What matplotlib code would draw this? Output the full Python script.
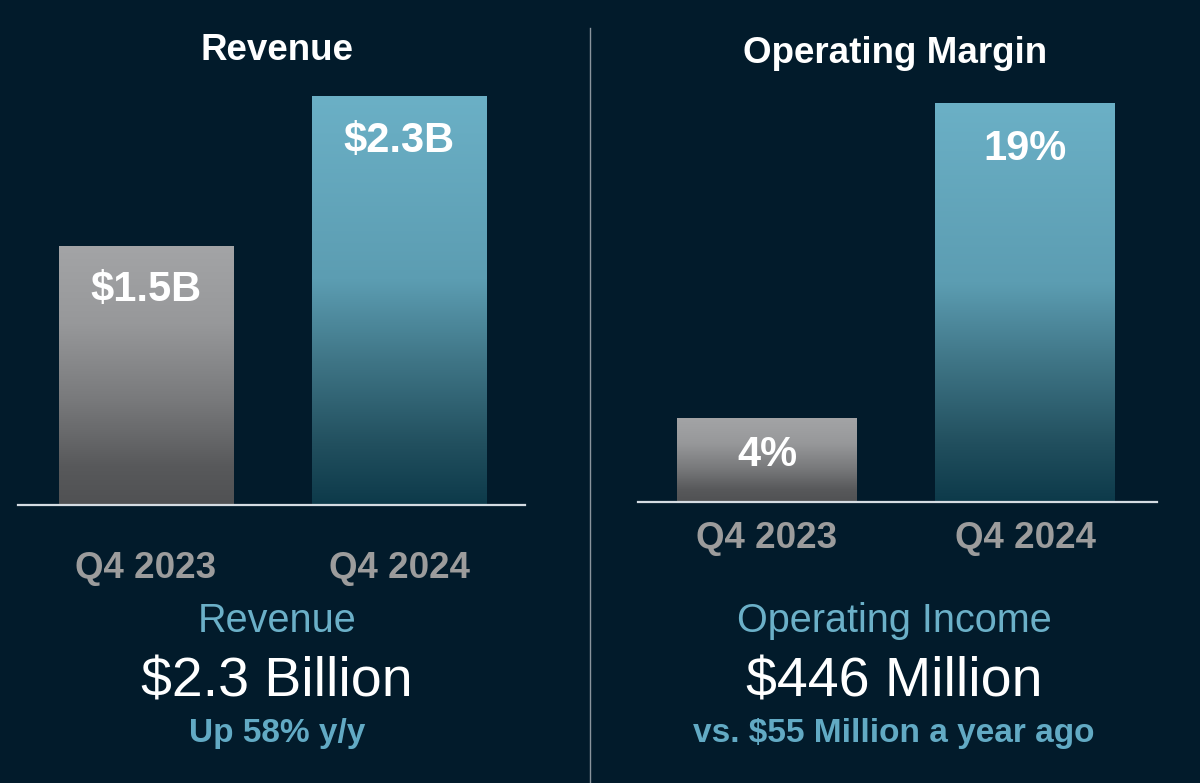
import numpy as np
import matplotlib
matplotlib.use('Agg')
import matplotlib.pyplot as plt
from matplotlib.colors import LinearSegmentedColormap

# ---------------- data ----------------
categories = ['Q4 2023', 'Q4 2024']
revenue = [1.46, 2.31]
revenue_labels = ['$1.5B', '$2.3B']
margin = [4, 19]
margin_labels = ['4%', '19%']
left_title = 'Revenue'
right_title = 'Operating Margin'
left_lines = ['Revenue', '$2.3 Billion', 'Up 58% y/y']
right_lines = ['Operating Income', '$446 Million', 'vs. $55 Million a year ago']

# ---------------- style ----------------
plt.rcParams['font.family'] = ['Liberation Sans', 'DejaVu Sans']
W, H = 1200, 783
BG = '#021b2b'
WHITE = '#ffffff'
TICK_GRAY = '#9c9c9c'
LIGHT_BLUE = '#6bb0c8'
BOLD_BLUE = '#62aac4'

gray_cmap = LinearSegmentedColormap.from_list('g', [
    (0.0, '#505153'), (0.15, '#58595b'), (0.4, '#78797b'),
    (0.7, '#97989a'), (1.0, '#a3a4a6')])
teal_cmap = LinearSegmentedColormap.from_list('t', [
    (0.0, '#0d3a4a'), (0.15, '#22505f'), (0.35, '#3f7586'),
    (0.55, '#5c9db2'), (1.0, '#6bb0c6')])

fig = plt.figure(figsize=(12, 7.83), dpi=100, facecolor=BG)


def fx(px):
    return px / W


def fy(py):
    return 1 - py / H


def make_panel(left_px, right_px, base_px, top_px, vals, labels, ref_val, ref_px,
               xlim, width, label_off, tick_pad):
    ax = fig.add_axes([fx(left_px), fy(base_px), (right_px - left_px) / W,
                       (base_px - top_px) / H])
    ax.set_facecolor(BG)
    x = np.arange(len(vals))
    bars = ax.bar(x, vals, width=width, color='none', edgecolor='none', zorder=2)
    grad = np.linspace(0, 1, 256).reshape(-1, 1)
    for b, cm in zip(bars, [gray_cmap, teal_cmap]):
        x0, y0, bw, bh = b.get_x(), b.get_y(), b.get_width(), b.get_height()
        im = ax.imshow(grad, cmap=cm, origin='lower', aspect='auto',
                       extent=[x0, x0 + bw, y0, y0 + bh], zorder=1,
                       interpolation='bilinear')
        im.set_clip_path(b)
    for xi, v, lab, off in zip(x, vals, labels, label_off):
        ax.annotate(lab, xy=(xi, v), xytext=(0, -off), textcoords='offset pixels',
                    ha='center', va='baseline', fontsize=30, fontweight='bold',
                    color=WHITE, zorder=3)
    ax.set_xlim(*xlim)
    ax.set_ylim(0, ref_val * (base_px - top_px) / ref_px)
    for s in ['top', 'right', 'left']:
        ax.spines[s].set_visible(False)
    ax.spines['bottom'].set_color('#d5dce2')
    ax.spines['bottom'].set_linewidth(1.6)
    ax.set_yticks([])
    ax.set_xticks(x, categories)
    ax.tick_params(axis='x', length=0, pad=tick_pad, labelsize=26.5,
                   labelcolor=TICK_GRAY)
    for lbl in ax.get_xticklabels():
        lbl.set_fontweight('bold')
        lbl.set_verticalalignment('baseline')
    return ax


make_panel(18, 525, 505, 60, revenue, revenue_labels, 2.31, 409,
           (-0.506, 1.498), 0.688, [55, 56], 73 * 0.72)
make_panel(638, 1157, 502, 60, margin, margin_labels, 19, 399,
           (-0.499, 1.509), 0.696, [48, 57], 46 * 0.72)

# divider
fig.add_artist(plt.Line2D([fx(590), fx(590)], [fy(28), fy(783)],
                          color='#8a949c', lw=1.0))

# titles
fig.text(fx(277), fy(60), left_title, ha='center', va='baseline',
         fontsize=26.5, fontweight='bold', color=WHITE)
fig.text(fx(895), fy(63), right_title, ha='center', va='baseline',
         fontsize=26.5, fontweight='bold', color=WHITE)

# bottom summaries
for cx, lines in [(277, left_lines), (894, right_lines)]:
    fig.text(fx(cx), fy(632), lines[0], ha='center', va='baseline',
             fontsize=28.5, color=LIGHT_BLUE)
    fig.text(fx(cx), fy(696), lines[1], ha='center', va='baseline',
             fontsize=40, color=WHITE)
    fig.text(fx(cx), fy(742), lines[2], ha='center', va='baseline',
             fontsize=24, fontweight='bold', color=BOLD_BLUE)

fig.savefig('out.png', dpi=100, facecolor=BG)
